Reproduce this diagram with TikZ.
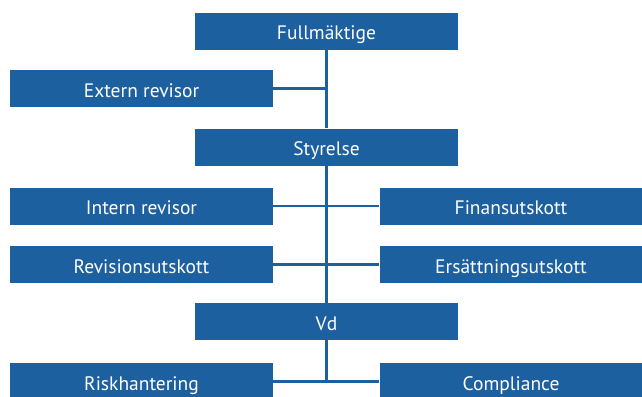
\documentclass[tikz,border=0pt]{standalone}
\usepackage{fontspec}
\setmainfont{PT Sans}
\definecolor{boxblue}{HTML}{1D60A0}
\tikzset{
  orgbox/.style={fill=boxblue, text=white, minimum width=263pt, minimum height=37pt, inner sep=0pt, text height=18pt, text depth=1pt, font=\fontsize{19.5}{22}\selectfont, anchor=center},
  link/.style={draw=boxblue, line width=2.6pt}
}
\begin{document}
\begin{tikzpicture}[x=1pt,y=-1pt]
\useasboundingbox (0,0) rectangle (642,396);
\clip (0,0) rectangle (642,396);
\node[orgbox] (full) at (326.5,31.5) {Fullmäktige};
\node[orgbox] (ext) at (141.5,88.5) {Extern revisor};
\node[orgbox] (sty) at (326.5,147) {Styrelse};
\node[orgbox] (int) at (141.5,206) {Intern revisor};
\node[orgbox] (fin) at (511,206) {Finansutskott};
\node[orgbox] (rev) at (141.5,264.5) {Revisionsutskott};
\node[orgbox] (ers) at (511,264.5) {Ersättningsutskott};
\node[orgbox] (vd) at (326.5,321.5) {Vd};
\node[orgbox] (risk) at (141.5,381.5) {Riskhantering};
\node[orgbox] (comp) at (511,381.5) {Compliance};
\coordinate (j1) at (full.south |- ext.east);
\coordinate (j4) at (vd.south |- risk.east);
\draw[link] (full.south) -- (sty.north);
\draw[link] (ext.east) -- (j1);
\draw[link] (sty.south) -- (vd.north);
\draw[link] (int.east) -- (fin.west);
\draw[link] (rev.east) -- (ers.west);
\draw[link] (vd.south) -- (j4);
\draw[link] (risk.east) -- (comp.west);
\end{tikzpicture}
\end{document}
